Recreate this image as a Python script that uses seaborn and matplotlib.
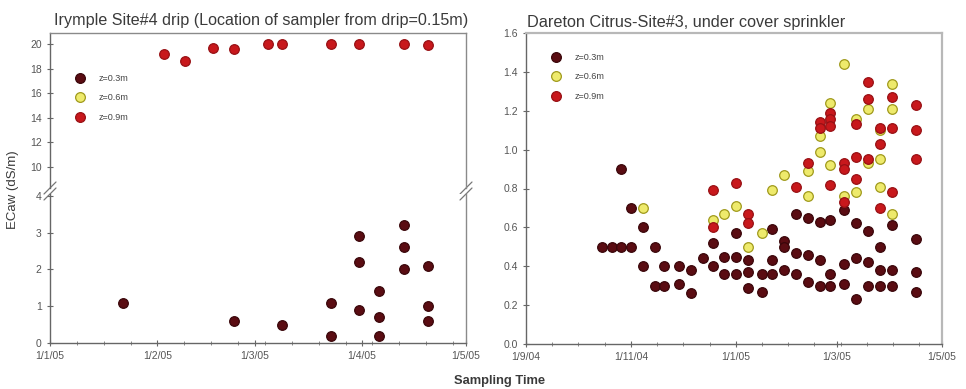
import pandas as pd
import seaborn as sns
import matplotlib.pyplot as plt
import matplotlib.dates as mdates
from matplotlib.lines import Line2D
from matplotlib.ticker import AutoMinorLocator

sns.set_style('white')
plt.rcParams['font.family'] = ['Liberation Sans', 'DejaVu Sans']

# legend / colours
depth_labels = ['z=0.3m', 'z=0.6m', 'z=0.9m']
fill_colors = ['#5a0c12', '#eeea6c', '#c8181c']
edge_colors = ['#3a060a', '#a09a1c', '#981014']

# Irymple Site#4 drip
iry_03_dates = ['2005-01-22', '2005-02-23', '2005-03-09', '2005-03-23',
                '2005-03-31', '2005-04-06', '2005-04-13', '2005-04-20']
iry_03_vals = [[1.1], [0.6], [0.5], [1.1, 0.2],
               [2.9, 2.2, 0.9], [1.4, 0.7, 0.2], [3.2, 2.6, 2.0], [2.1, 1.0, 0.6]]
iry_09_dates = ['2005-02-03', '2005-02-09', '2005-02-17', '2005-02-23', '2005-03-05',
                '2005-03-09', '2005-03-23', '2005-03-31', '2005-04-13', '2005-04-20']
iry_09_vals = [[19.2], [18.6], [19.7], [19.6], [20.0],
               [20.0], [20.0], [20.0], [20.0], [19.9]]

# Dareton Citrus-Site#3
dar_03_dates = ['2004-10-15', '2004-10-21', '2004-10-26', '2004-11-01', '2004-11-08',
                '2004-11-15', '2004-11-20', '2004-11-29', '2004-12-06', '2004-12-13',
                '2004-12-19', '2004-12-25', '2005-01-01', '2005-01-08', '2005-01-16',
                '2005-01-22', '2005-01-29', '2005-02-05', '2005-02-12', '2005-02-19',
                '2005-02-25', '2005-03-05', '2005-03-12', '2005-03-19', '2005-03-26',
                '2005-04-02', '2005-04-16']
dar_03_vals = [[0.50], [0.50], [0.50, 0.90], [0.50, 0.70], [0.60, 0.40],
               [0.50, 0.30], [0.40, 0.30], [0.40, 0.31], [0.38, 0.26], [0.44],
               [0.52, 0.40], [0.45, 0.36], [0.57, 0.45, 0.36], [0.43, 0.37, 0.29], [0.36, 0.27],
               [0.59, 0.43, 0.36], [0.53, 0.50, 0.38], [0.67, 0.47, 0.36], [0.65, 0.46, 0.32],
               [0.63, 0.43, 0.30], [0.64, 0.36, 0.30], [0.69, 0.41, 0.31], [0.62, 0.44, 0.23],
               [0.58, 0.42, 0.30], [0.50, 0.38, 0.30], [0.61, 0.38, 0.30], [0.54, 0.37, 0.27]]
dar_06_dates = ['2004-11-08', '2004-12-19', '2004-12-25', '2005-01-01', '2005-01-08',
                '2005-01-16', '2005-01-22', '2005-01-29', '2005-02-12', '2005-02-19',
                '2005-02-25', '2005-03-05', '2005-03-12', '2005-03-19', '2005-03-26',
                '2005-04-02']
dar_06_vals = [[0.70], [0.64], [0.67], [0.71], [0.50],
               [0.57], [0.79], [0.87], [0.89, 0.76], [1.07, 0.99],
               [1.24, 0.92], [1.44, 0.76], [1.16, 0.78], [1.21, 0.93], [1.10, 0.95, 0.81],
               [1.34, 1.21, 0.67]]
dar_09_dates = ['2004-12-19', '2005-01-01', '2005-01-08', '2005-02-05', '2005-02-12',
                '2005-02-19', '2005-02-25', '2005-03-05', '2005-03-12', '2005-03-19',
                '2005-03-26', '2005-04-02', '2005-04-16']
dar_09_vals = [[0.79, 0.60], [0.83], [0.67, 0.62], [0.81], [0.93],
               [1.14, 1.11], [1.19, 1.16, 1.12, 0.82], [0.93, 0.90, 0.73], [1.13, 0.96, 0.85],
               [1.35, 1.26, 0.95], [1.11, 1.03, 0.70], [1.27, 1.11, 0.78], [1.23, 1.10, 0.95]]

# axis ticks
iry_ticks = ['2005-01-01', '2005-02-01', '2005-03-01', '2005-04-01', '2005-05-01']
iry_tick_labels = ['1/1/05', '1/2/05', '1/3/05', '1/4/05', '1/5/05']
dar_ticks = ['2004-09-01', '2004-11-01', '2005-01-01', '2005-03-01', '2005-05-01']
dar_tick_labels = ['1/9/04', '1/11/04', '1/1/05', '1/3/05', '1/5/05']

W, H = 966, 389
fig = plt.figure(figsize=(W / 100, H / 100), dpi=100)


def box(x0, y0, x1, y1):
    return [x0 / W, 1 - y1 / H, (x1 - x0) / W, (y1 - y0) / H]


def long_form(dates, vals):
    rows = [(pd.Timestamp(d), v) for d, vs in zip(dates, vals) for v in vs]
    return pd.DataFrame(rows, columns=['date', 'ec'])


def dots(ax, dates, vals, k):
    sns.scatterplot(data=long_form(dates, vals), x='date', y='ec', ax=ax, s=48,
                    color=fill_colors[k], edgecolor=edge_colors[k], linewidth=0.9,
                    zorder=3, legend=False)
    ax.set_xlabel('')
    ax.set_ylabel('')


def style(ax):
    ax.tick_params(which='both', bottom=True, left=True, top=False, right=False)
    ax.tick_params(which='major', direction='inout', length=5, width=0.8,
                   colors='#666666', labelsize=7.5, labelcolor='#555555')
    ax.tick_params(which='minor', direction='inout', length=3, width=0.7, colors='#888888')
    for s in ax.spines.values():
        s.set_color('#8a8a8a')
        s.set_linewidth(1.0)
    ax.spines['left'].set_color('#666666')
    ax.spines['bottom'].set_color('#666666')


def add_legend(ax, x, y):
    handles = [Line2D([], [], ls='none', marker='o', markersize=7.0,
                      markerfacecolor=fill_colors[k], markeredgecolor=edge_colors[k],
                      markeredgewidth=0.9) for k in range(3)]
    ax.legend(handles, depth_labels, loc='upper left', bbox_to_anchor=(x / W, 1 - y / H),
              bbox_transform=fig.transFigure, frameon=False, fontsize=6.5,
              handlelength=1.0, handletextpad=1.6, labelspacing=1.15,
              borderpad=0, borderaxespad=0, labelcolor='#444444')


# ---- left panel: broken y axis ----
ax_up = fig.add_axes(box(50, 33, 466, 188))
ax_lo = fig.add_axes(box(50, 194, 466, 343), sharex=ax_up)

dots(ax_lo, iry_03_dates, iry_03_vals, 0)
dots(ax_up, iry_09_dates, iry_09_vals, 2)

ax_up.set_ylim(8.26, 20.92)
ax_up.set_yticks(range(10, 21, 2))
ax_lo.set_ylim(0, 4.05)
ax_lo.set_yticks(range(0, 5))
ax_lo.set_xlim(pd.Timestamp(iry_ticks[0]), pd.Timestamp(iry_ticks[-1]))
ax_lo.set_xticks(mdates.date2num(pd.to_datetime(iry_ticks)))
ax_lo.set_xticklabels(iry_tick_labels)
ax_lo.xaxis.set_minor_locator(AutoMinorLocator(4))

for ax in (ax_up, ax_lo):
    style(ax)
ax_up.spines['bottom'].set_visible(False)
ax_lo.spines['top'].set_visible(False)
ax_up.tick_params(axis='x', which='both', bottom=False, labelbottom=False)

# break marks
for ax, yy, hpx in ((ax_up, 0, 155), (ax_lo, 1, 149)):
    dx, dy = 6 / 416, 6 / hpx
    for xx in (0, 1):
        ax.plot([xx - dx, xx + dx], [yy - dy, yy + dy], transform=ax.transAxes,
                color='#777777', lw=0.9, clip_on=False)

add_legend(ax_up, 75, 74)
fig.text(261 / W, 1 - 21 / H, 'Irymple Site#4 drip (Location of sampler from drip=0.15m)',
         ha='center', va='center', fontsize=11.6, color='#3a3a3a')

# ---- right panel ----
ax_r = fig.add_axes(box(526, 33, 942, 344))
dots(ax_r, dar_03_dates, dar_03_vals, 0)
dots(ax_r, dar_06_dates, dar_06_vals, 1)
dots(ax_r, dar_09_dates, dar_09_vals, 2)
ax_r.set_ylim(0, 1.6)
ax_r.set_yticks([i / 5 for i in range(9)])
ax_r.set_yticklabels([f'{i / 5:.1f}' for i in range(9)])
ax_r.set_xlim(pd.Timestamp(dar_ticks[0]), pd.Timestamp(dar_ticks[-1]))
ax_r.set_xticks(mdates.date2num(pd.to_datetime(dar_ticks)))
ax_r.set_xticklabels(dar_tick_labels)
ax_r.xaxis.set_minor_locator(AutoMinorLocator(4))
style(ax_r)
ax_r.spines['top'].set_color('#b8b8b8')
ax_r.spines['right'].set_color('#b8b8b8')
ax_r.spines['top'].set_linewidth(1.6)
ax_r.spines['right'].set_linewidth(1.6)

add_legend(ax_r, 551, 53)
fig.text(527 / W, 1 - 23 / H, 'Dareton Citrus-Site#3, under cover sprinkler',
         ha='left', va='center', fontsize=11.7, color='#3a3a3a')

# shared axis labels
fig.text(13 / W, 1 - 190 / H, 'ECaw (dS/m)', rotation=90, ha='center', va='center',
         fontsize=9.5, color='#3a3a3a')
fig.text(500 / W, 1 - 381 / H, 'Sampling Time', ha='center', va='center',
         fontsize=9.3, fontweight='bold', color='#3a3a3a')

fig.savefig('out.png', dpi=100)
